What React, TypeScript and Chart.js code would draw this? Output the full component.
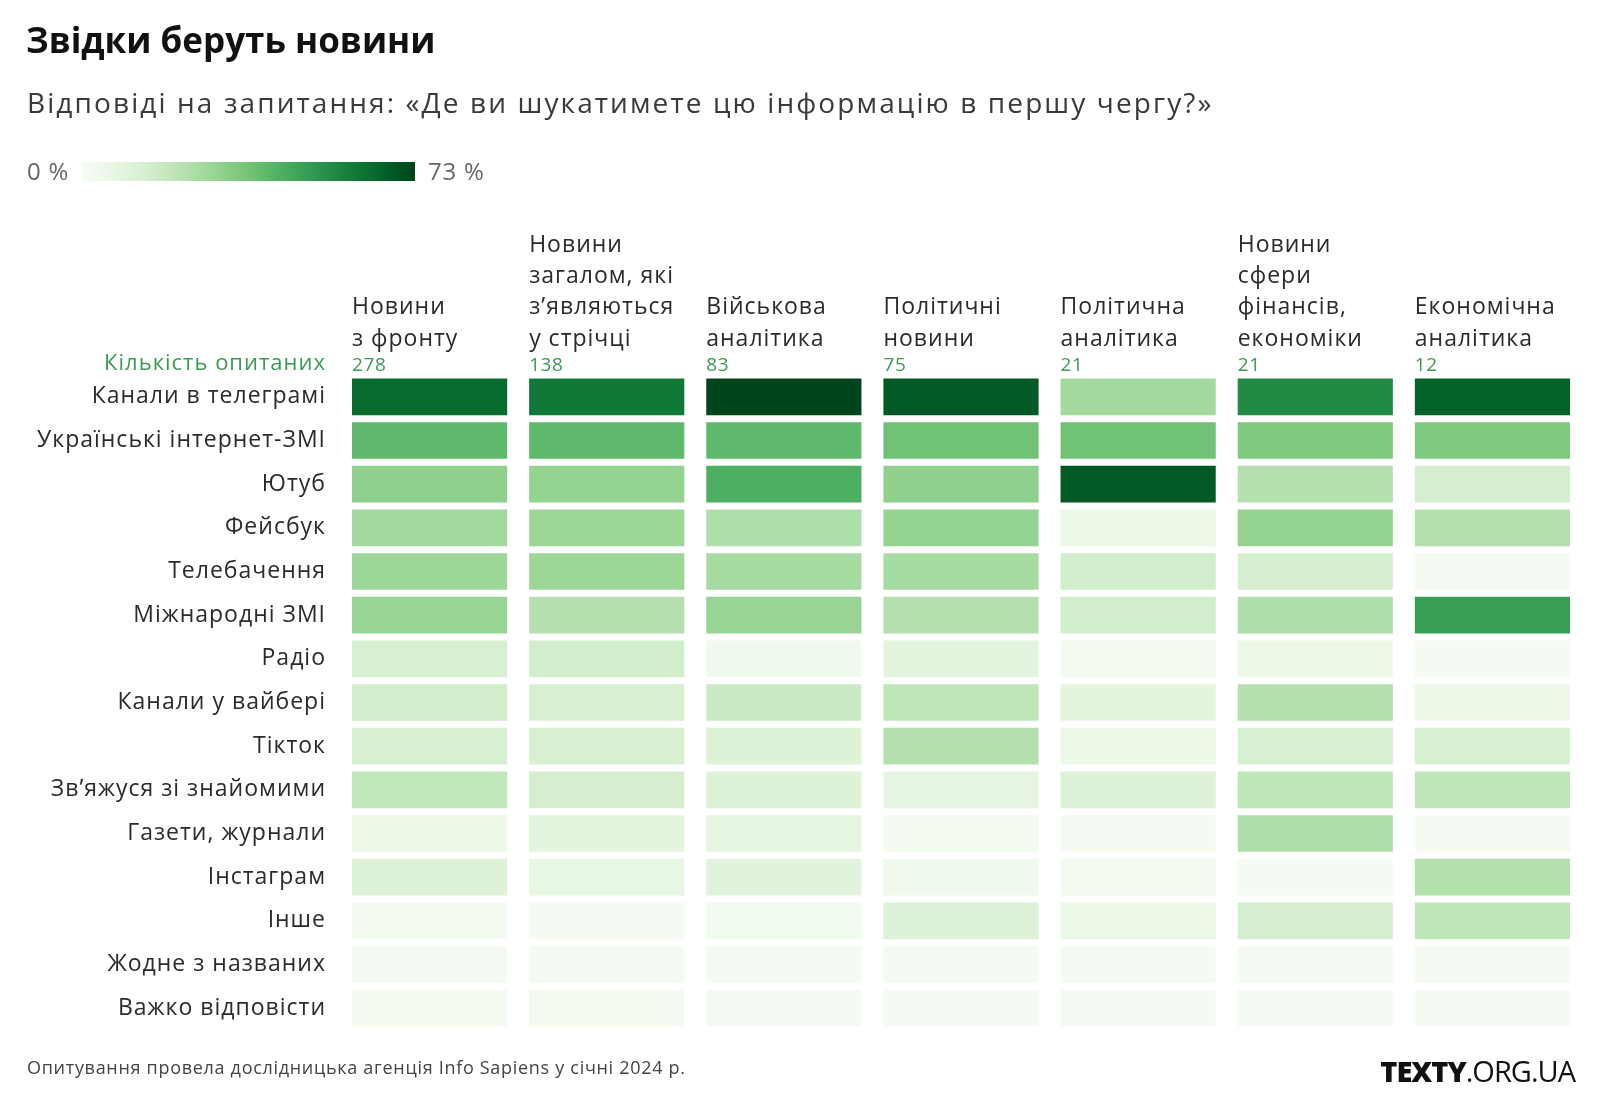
import React, { useEffect, useRef } from 'react';
import { Chart, registerables } from 'chart.js';

Chart.register(...registerables);

// ---------- DATA ----------
const sources = [
  'Канали в телеграмі',
  'Українські інтернет-ЗМІ',
  'Ютуб',
  'Фейсбук',
  'Телебачення',
  'Міжнародні ЗМІ',
  'Радіо',
  'Канали у вайбері',
  'Тікток',
  'Зв’яжуся зі знайомими',
  'Газети, журнали',
  'Інстаграм',
  'Інше',
  'Жодне з названих',
  'Важко відповісти',
];

const topics = [
  ['Новини', 'з фронту'],
  ['Новини', 'загалом, які', 'з’являються', 'у стрічці'],
  ['Військова', 'аналітика'],
  ['Політичні', 'новини'],
  ['Політична', 'аналітика'],
  ['Новини', 'сфери', 'фінансів,', 'економіки'],
  ['Економічна', 'аналітика'],
];

const respondents = [278, 138, 83, 75, 21, 21, 12];

// share of respondents (%) per source, one array per topic
const frontNews = [64, 40, 31, 27, 28, 29, 13, 15, 13, 19, 5, 11, 2, 1, 2];
const generalNews = [60, 40, 30, 28, 28, 23, 15, 13, 13, 14, 9, 7, 1, 1, 2];
const militaryAnalytics = [73, 40, 44, 24, 26, 29, 4, 17, 11, 11, 8, 10, 3, 1, 1];
const politicalNews = [68, 37, 31, 30, 26, 23, 9, 20, 23, 8, 2, 4, 11, 1, 1];
const politicalAnalytics = [27, 37, 68, 6, 15, 15, 2, 9, 5, 11, 1, 2, 6, 1, 1];
const financeNews = [55, 34, 23, 30, 14, 24, 5, 23, 13, 20, 24, 1, 14, 1, 1];
const economicAnalytics = [66, 34, 14, 23, 1, 49, 1, 5, 13, 20, 1, 23, 20, 1, 1];

const topicValues = [
  frontNews,
  generalNews,
  militaryAnalytics,
  politicalNews,
  politicalAnalytics,
  financeNews,
  economicAnalytics,
];

const scaleMin = 0;
const scaleMax = 73;

// ---------- COLOUR (d3 interpolateGreens) ----------
const greensScheme = ['f7fcf5', 'e5f5e0', 'c7e9c0', 'a1d99b', '74c476', '41ab5d', '238b45', '006d2c', '00441b'];

function basis(t1: number, v0: number, v1: number, v2: number, v3: number) {
  const t2 = t1 * t1;
  const t3 = t2 * t1;
  return ((1 - 3 * t1 + 3 * t2 - t3) * v0 + (4 - 6 * t2 + 3 * t3) * v1 + (1 + 3 * t1 + 3 * t2 - 3 * t3) * v2 + t3 * v3) / 6;
}
function basisSpline(values: number[]) {
  const n = values.length - 1;
  return (t: number) => {
    let i: number;
    if (t <= 0) { t = 0; i = 0; } else if (t >= 1) { t = 1; i = n - 1; } else i = Math.floor(t * n);
    const v1 = values[i];
    const v2 = values[i + 1];
    const v0 = i > 0 ? values[i - 1] : 2 * v1 - v2;
    const v3 = i < n - 1 ? values[i + 2] : 2 * v2 - v1;
    return basis((t - i / n) * n, v0, v1, v2, v3);
  };
}
const rS = basisSpline(greensScheme.map((h) => parseInt(h.slice(0, 2), 16)));
const gS = basisSpline(greensScheme.map((h) => parseInt(h.slice(2, 4), 16)));
const bS = basisSpline(greensScheme.map((h) => parseInt(h.slice(4, 6), 16)));
function greens(t: number) {
  const c = (v: number) => Math.max(0, Math.min(255, Math.round(v)));
  return `rgb(${c(rS(t))}, ${c(gS(t))}, ${c(bS(t))})`;
}
const colorFor = (v: number) => greens((v - scaleMin) / (scaleMax - scaleMin));

const FONT = '"Open Sans", "Noto Sans", sans-serif';
const GAP = 0.062;

const spacingPlugin = {
  id: 'letterSpacing',
  beforeDraw(chart: any) {
    (chart.ctx as any).letterSpacing = '1px';
  },
};

const headerPlugin = {
  id: 'columnHeaders',
  afterDraw(chart: any) {
    const ctx = chart.ctx;
    const xs = chart.scales.x;
    const top = chart.chartArea.top;
    ctx.save();
    ctx.textBaseline = 'middle';
    ctx.textAlign = 'left';
    topics.forEach((lines: string[], c: number) => {
      const left = xs.getPixelForValue(c + GAP);
      ctx.fillStyle = '#2b2b2b';
      ctx.font = `23px ${FONT}`;
      (ctx as any).letterSpacing = '1px';
      const lh = 31.3;
      lines.forEach((line, i) => {
        const y = top - 36 - (lines.length - 1 - i) * lh;
        ctx.fillText(line, left, y);
      });
      ctx.fillStyle = '#3a9a56';
      ctx.font = `19px ${FONT}`;
      (ctx as any).letterSpacing = '0.6px';
      ctx.fillText(String(respondents[c]), left, top - 9);
    });
    ctx.textAlign = 'right';
    ctx.fillStyle = '#3a9a56';
    ctx.font = `22px ${FONT}`;
    (ctx as any).letterSpacing = '1px';
    ctx.fillText('Кількість опитаних', chart.chartArea.left - 15, top - 11);
    ctx.restore();
  },
};

export default function App() {
  const ref = useRef<HTMLCanvasElement | null>(null);

  useEffect(() => {
    if (!ref.current) return;
    const datasets = topicValues.map((vals, c) => ({
      label: topics[c].join(' '),
      data: vals.map(() => [c + GAP, c + 1 - GAP]),
      backgroundColor: vals.map((v) => colorFor(v)),
      borderWidth: 0,
      grouped: false,
      categoryPercentage: 1,
      barPercentage: 0.84,
    }));
    const chart = new Chart(ref.current, {
      type: 'bar',
      data: { labels: sources, datasets },
      options: {
        indexAxis: 'y',
        responsive: false,
        maintainAspectRatio: false,
        animation: false,
        layout: { padding: { top: 375, bottom: 72, left: 0, right: 19 } },
        scales: {
          x: { type: 'linear', min: 0, max: 7, display: false },
          y: {
            type: 'category',
            grid: { display: false, drawTicks: false },
            border: { display: false },
            ticks: { font: { family: FONT, size: 23 }, color: '#2b2b2b', padding: 15 },
            afterFit: (s: any) => { s.width = 341; },
          },
        },
        plugins: { legend: { display: false }, tooltip: { enabled: false } },
      } as any,
      plugins: [spacingPlugin, headerPlugin],
    });
    return () => chart.destroy();
  }, []);

  const gradStops = Array.from({ length: 21 }, (_, i) => `${greens(i / 20)} ${i * 5}%`).join(', ');

  return (
    <div style={{ position: 'absolute', left: 0, top: 0, width: 1600, height: 1102, background: '#fff', fontFamily: FONT }}>
      <canvas ref={ref} width={1600} height={1102} style={{ position: 'absolute', left: 0, top: 0 }} />
      <div style={{ position: 'absolute', left: 26, top: 18, fontSize: 35, fontWeight: 700, color: '#111', lineHeight: '44px', whiteSpace: 'nowrap' }}>
        Звідки беруть новини
      </div>
      <div style={{ position: 'absolute', left: 27, top: 82, fontSize: 28, color: '#3a3a3a', lineHeight: '40px', whiteSpace: 'nowrap', letterSpacing: '2.1px' }}>
        Відповіді на запитання: «Де ви шукатимете цю інформацію в першу чергу?»
      </div>
      <div style={{ position: 'absolute', left: 27, top: 156, fontSize: 24, color: '#666', lineHeight: '30px', whiteSpace: 'nowrap', letterSpacing: '0.8px' }}>0 %</div>
      <div style={{ position: 'absolute', left: 82, top: 162, width: 333, height: 19, background: `linear-gradient(to right, ${gradStops})` }} />
      <div style={{ position: 'absolute', left: 428, top: 156, fontSize: 24, color: '#666', lineHeight: '30px', whiteSpace: 'nowrap', letterSpacing: '0.8px' }}>73 %</div>
      <div style={{ position: 'absolute', left: 27, top: 1055, fontSize: 18, fontWeight: 500, color: '#444', lineHeight: '24px', whiteSpace: 'nowrap', letterSpacing: '0.7px' }}>
        Опитування провела дослідницька агенція Info Sapiens у січні 2024 р.
      </div>
      <div style={{ position: 'absolute', right: 25, top: 1053, fontSize: 29, color: '#111', lineHeight: '36px', whiteSpace: 'nowrap', letterSpacing: -1 }}>
        <span style={{ fontWeight: 800 }}>TEXTY</span><span>.ORG.UA</span>
      </div>
    </div>
  );
}
